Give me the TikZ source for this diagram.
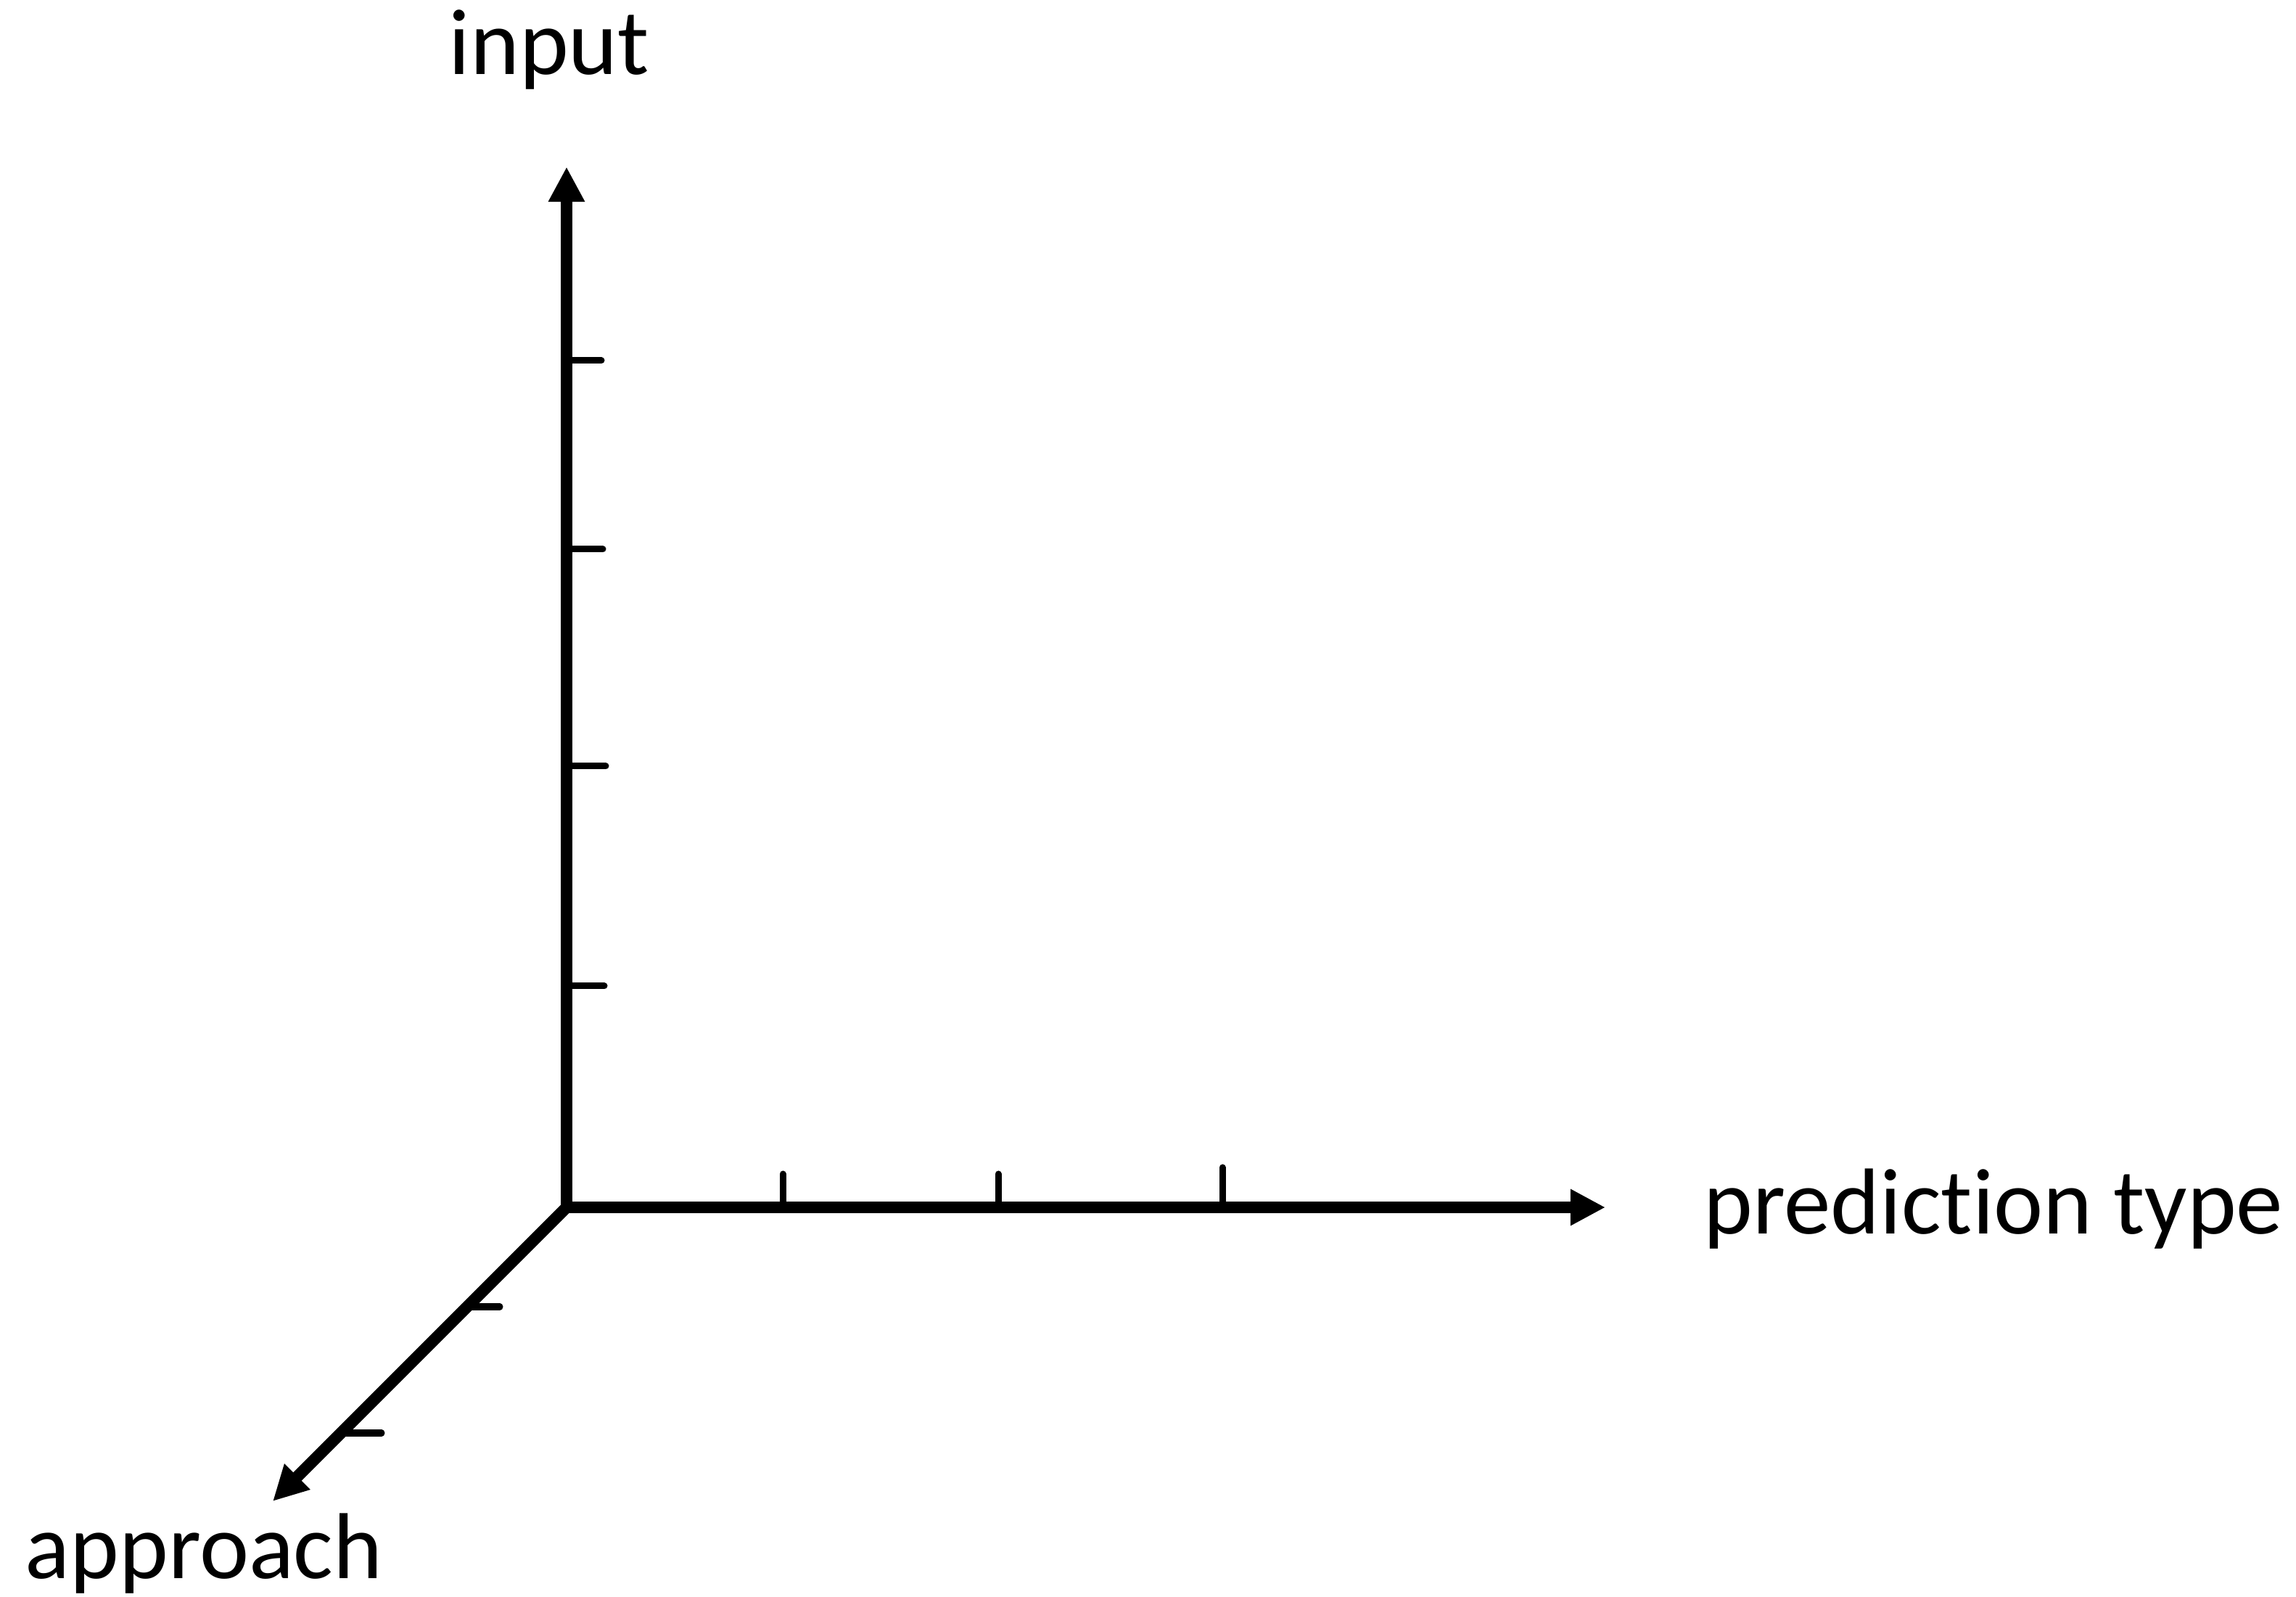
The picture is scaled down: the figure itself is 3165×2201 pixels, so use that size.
\documentclass[tikz,border=0pt]{standalone}
\usepackage{fontspec}
\setmainfont{Carlito}[Ligatures=NoCommon,RawFeature=-liga]
\usetikzlibrary{arrows.meta}
\begin{document}
\begin{tikzpicture}[x=0.01cm,y=-0.01cm,
  axisline/.style={line width=0.16cm, line join=miter},
  tickmark/.style={line width=0.09cm, line cap=round},
  lbl/.style={inner sep=0pt, anchor=base, font=\fontsize{36.7pt}{44pt}\selectfont}]
\useasboundingbox (0,0) rectangle (3165,2201);
% axis end points
\coordinate (O) at (781,1664);
\coordinate (T) at (781,230);
\coordinate (R) at (2213,1664);
\coordinate (A) at (376,2069);
% axes
\draw[axisline, {Triangle[length=0.48cm,width=0.47cm]}-{Triangle[length=0.48cm,width=0.47cm]}] (T) -- (O) -- (R);
\draw[axisline, line cap=round, -{Triangle[length=0.48cm,width=0.47cm]}] (O) -- (A);
% ticks on vertical axis
\coordinate (v1a) at (781,497); \coordinate (v1b) at (829,497);
\coordinate (v2a) at (781,757); \coordinate (v2b) at (831,757);
\coordinate (v3a) at (781,1056); \coordinate (v3b) at (835,1056);
\coordinate (v4a) at (781,1359); \coordinate (v4b) at (833,1359);
\draw[tickmark] (v1a) -- (v1b);
\draw[tickmark] (v2a) -- (v2b);
\draw[tickmark] (v3a) -- (v3b);
\draw[tickmark] (v4a) -- (v4b);
% ticks on horizontal axis
\coordinate (h1a) at (1079,1664); \coordinate (h1b) at (1079,1618);
\coordinate (h2a) at (1376,1664); \coordinate (h2b) at (1376,1618);
\coordinate (h3a) at (1685,1664); \coordinate (h3b) at (1685,1609);
\draw[tickmark] (h1a) -- (h1b);
\draw[tickmark] (h2a) -- (h2b);
\draw[tickmark] (h3a) -- (h3b);
% ticks on diagonal axis
\coordinate (d1a) at (644,1801); \coordinate (d1b) at (689,1801);
\coordinate (d2a) at (470,1975); \coordinate (d2b) at (526,1975);
\draw[tickmark] (d1a) -- (d1b);
\draw[tickmark] (d2a) -- (d2b);
% labels
\node[lbl] (input) at (757,103) {input};
\node[lbl] (pred) at (2748,1700) {prediction type};
\node[lbl] (appr) at (281,2175) {approach};
\end{tikzpicture}
\end{document}
